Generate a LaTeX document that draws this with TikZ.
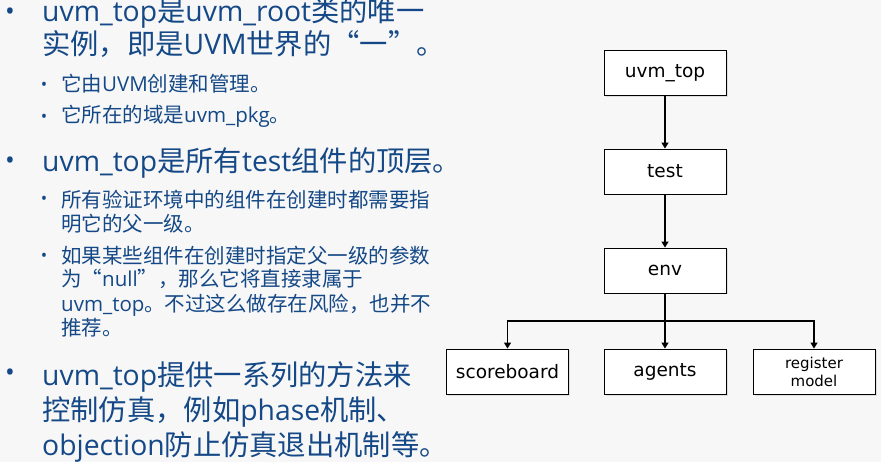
\documentclass[tikz,border=0pt]{standalone}
\usepackage{fontspec}
\setmainfont{Noto Sans CJK SC}
\newfontfamily\enfont{Open Sans}
\newfontfamily\boxfont{DejaVu Sans}
\usetikzlibrary{arrows.meta,positioning,shadows}
\definecolor{uvmBlue}{RGB}{20,72,134}
\definecolor{slideBg}{RGB}{247,247,247}
\newcommand{\en}[1]{{\enfont #1}}

\begin{document}
\begin{tikzpicture}[x=1pt,y=-1pt,
  main/.style={anchor=base west, inner sep=0pt, align=left, text=uvmBlue, font=\fontsize{28.3}{35}\selectfont},
  sub/.style={anchor=base west, inner sep=0pt, align=left, text=uvmBlue, font=\fontsize{20.5}{24}\selectfont},
  dotbig/.style={inner sep=0pt, text=uvmBlue, font=\enfont\fontsize{26}{26}\selectfont},
  dotsmall/.style={inner sep=0pt, text=uvmBlue, font=\enfont\fontsize{17}{17}\selectfont},
  blk/.style={draw, line width=0.9pt, fill=white, minimum width=122pt, minimum height=45pt, inner sep=2pt,
    font=\boxfont\fontsize{18.5}{22}\selectfont,
    drop shadow={shadow xshift=1.5pt, shadow yshift=-1.5pt, opacity=0.2}},
  arr/.style={line width=1.3pt, -{Triangle[length=6pt,width=7pt]}}]
  % slide background, 881 x 462 px
  \fill[slideBg] (0,0) rectangle (881,462);
  \useasboundingbox (0,0) rectangle (881,462);

  % bullet list on the left (text nodes sit on the baseline of their last line)
  \node[dotbig] (b1) at (10,14) {•};
  \node[main, font=\fontsize{28.3}{33}\selectfont] (t1) at (42,55) {\en{uvm\_top}是\en{uvm\_root}类的唯一\\实例，即是\en{UVM}世界的“一”。};
  \node[dotsmall] (b1a) at (44,86) {•};
  \node[sub] (t1a) at (61,92) {它由\en{UVM}创建和管理。};
  \node[dotsmall] (b1b) at (44,118) {•};
  \node[sub] (t1b) at (61,123) {它所在的域是\en{uvm\_pkg}。};

  \node[dotbig] (b2) at (10,163) {•};
  \node[main] (t2) at (42,172) {\en{uvm\_top}是所有\en{test}组件的顶层。};
  \node[dotsmall] (b2a) at (44,200) {•};
  \node[sub] (t2a) at (61,232) {所有验证环境中的组件在创建时都需要指\\明它的父一级。};
  \node[dotsmall] (b2b) at (44,257) {•};
  \node[sub] (t2b) at (61,335) {如果某些组件在创建时指定父一级的参数\\为“\en{null}”，那么它将直接隶属于\\\en{uvm\_top}。不过这么做存在风险，也并不\\推荐。};

  \node[dotbig] (b3) at (10,375) {•};
  \node[main] (t3) at (42,455) {\en{uvm\_top}提供一系列的方法来\\控制仿真，例如\en{phase}机制、\\\en{objection}防止仿真退出机制等。};

  % component tree
  \node[blk] (top) at (665,73) {uvm\_top};
  \node[blk] (test) at (665,171.5) {test};
  \node[blk] (env) at (665,270.5) {env};
  \node[blk] (score) at (507.5,371.5) {scoreboard};
  \node[blk] (agents) at (665,371.5) {agents};
  \node[blk, align=center, font=\boxfont\fontsize{15}{18}\selectfont] (reg) at (814,371.5) {register\\model};
  \coordinate (split) at (665,321);

  \draw[arr] (top) -- (test);
  \draw[arr] (test) -- (env);
  \draw[arr] (env) -- (agents);
  \draw[arr] (env) -- (split) -| (score);
  \draw[arr] (env) -- (split) -| (reg);
\end{tikzpicture}
\end{document}
